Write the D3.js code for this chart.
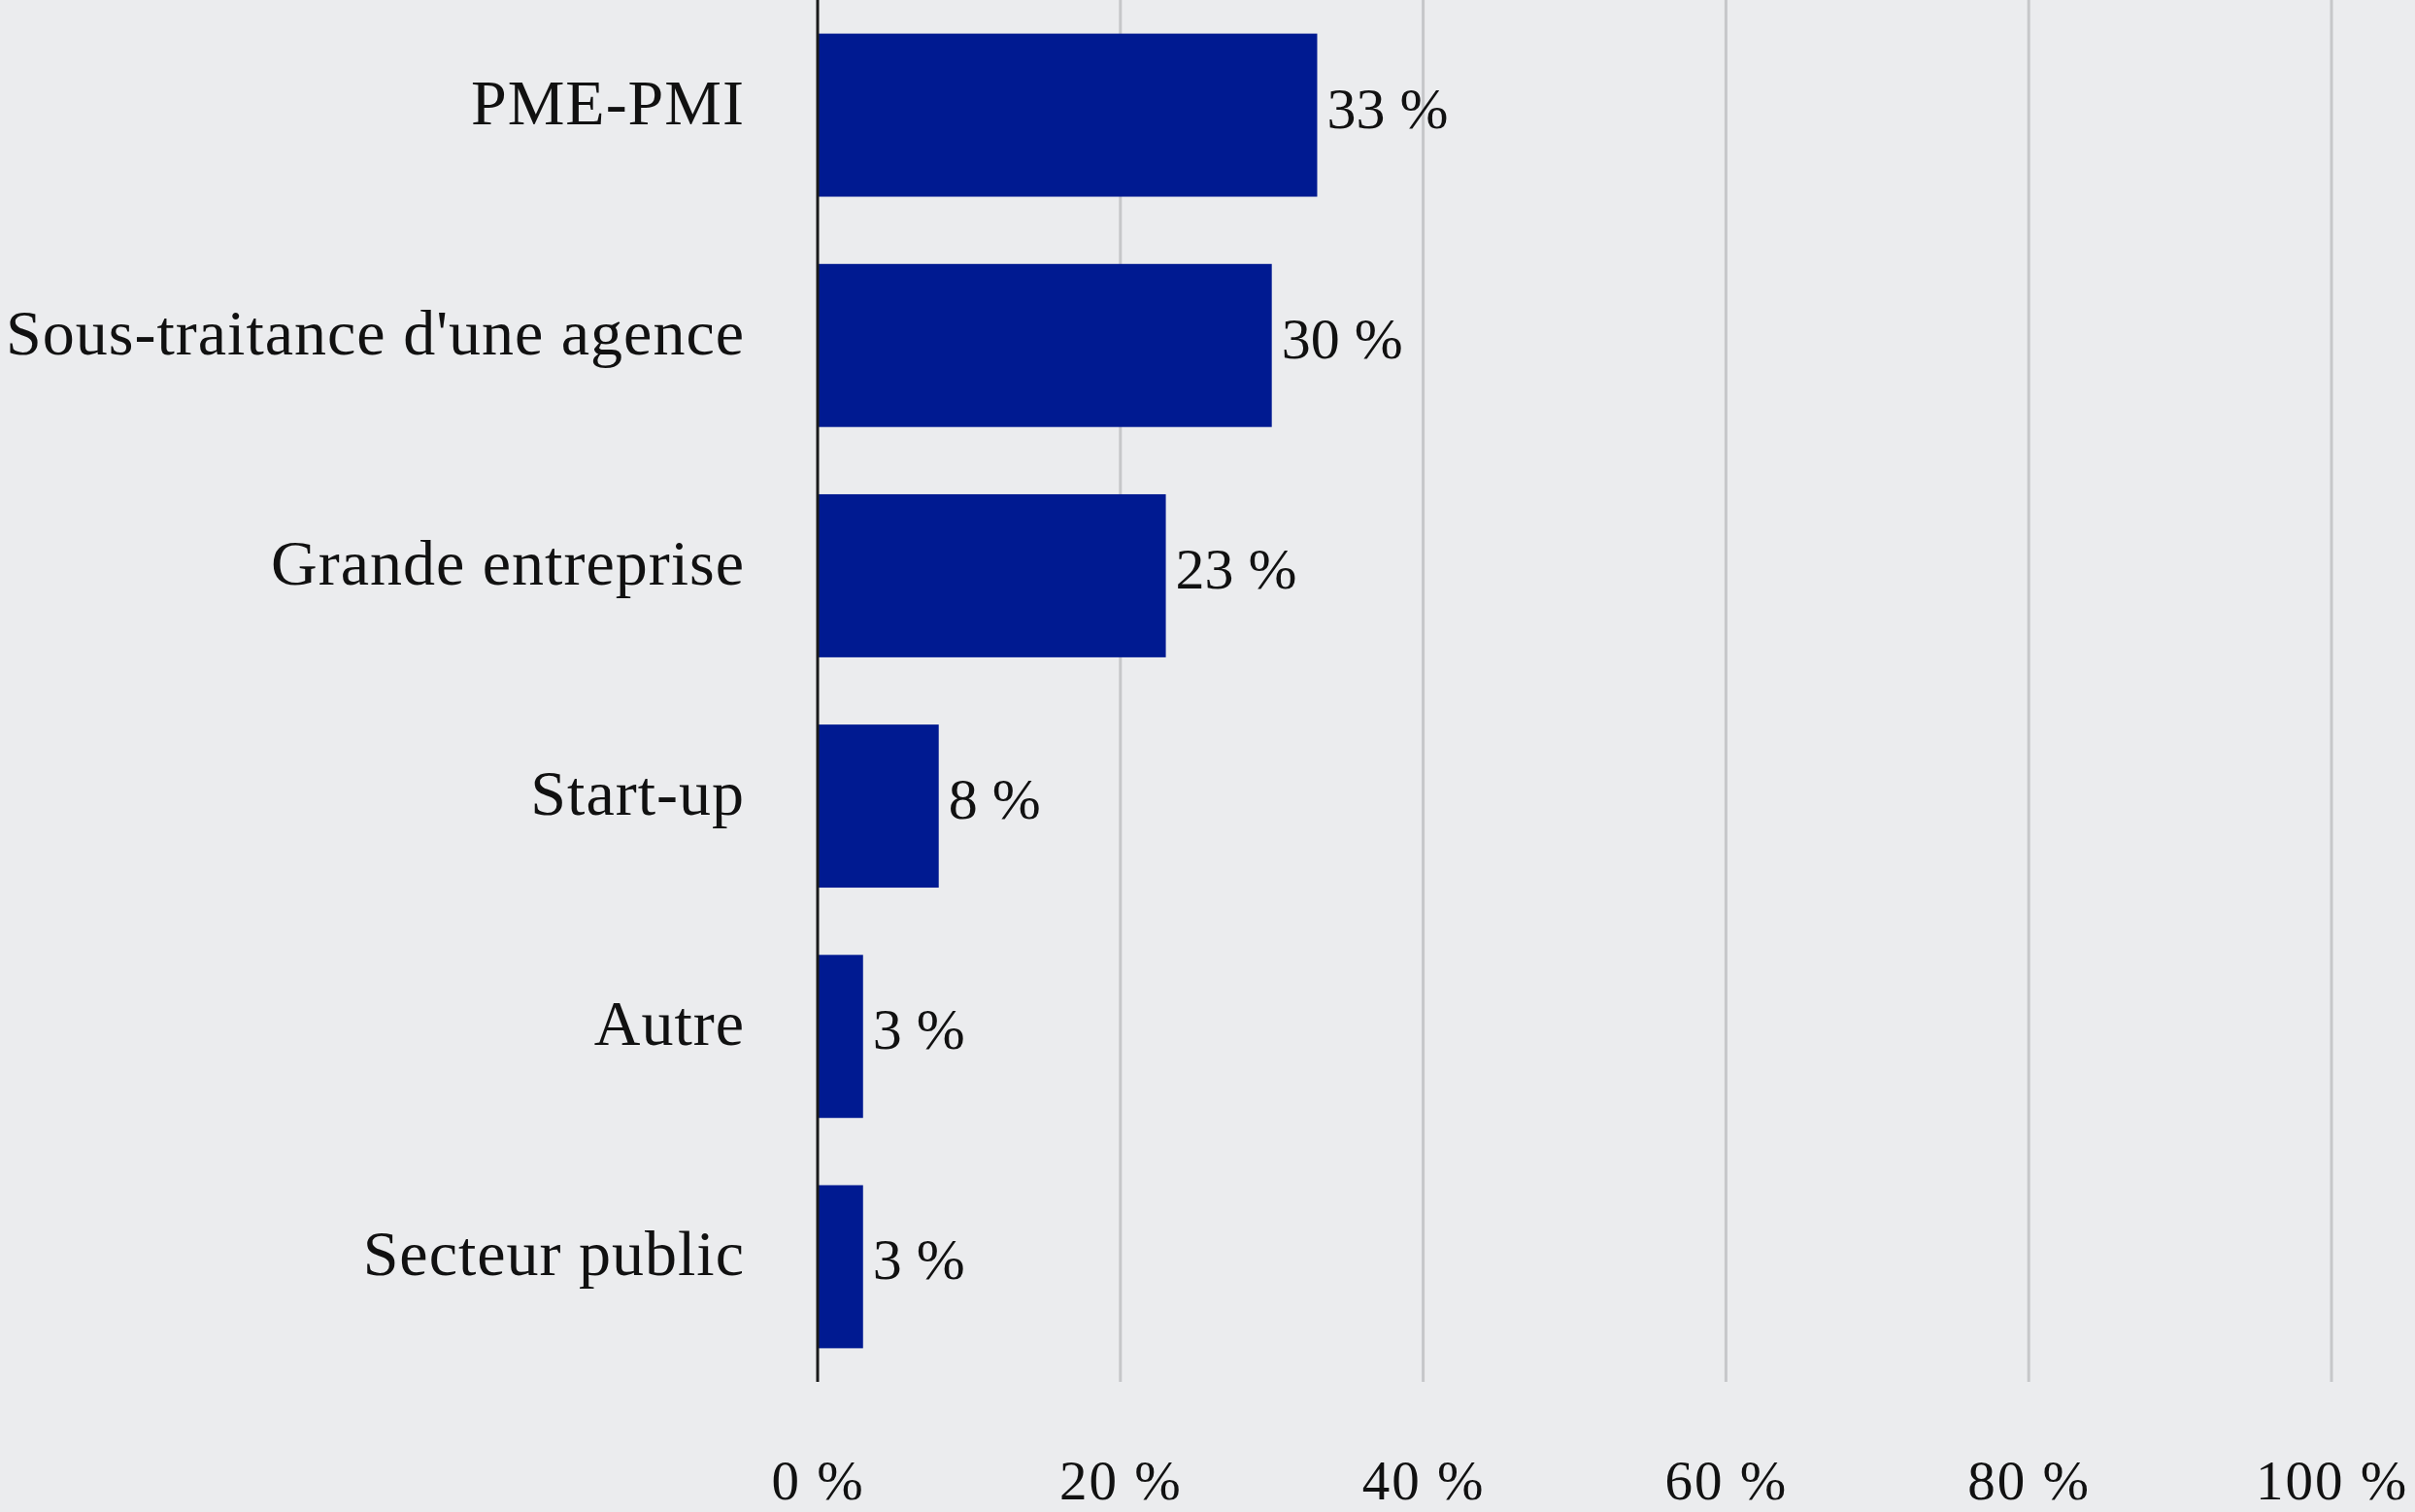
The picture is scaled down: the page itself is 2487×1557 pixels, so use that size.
<!DOCTYPE html>
<html>
<head>
<meta charset="utf-8">
<script src="https://cdn.jsdelivr.net/npm/d3@7"></script>
<style>
  html, body { margin: 0; padding: 0; background: #EBECEE; }
  svg { display: block; }
</style>
</head>
<body>
<svg id="chart" width="2487" height="1557"></svg>
<script>
const categories = ["PME-PMI", "Sous-traitance d'une agence", "Grande entreprise", "Start-up", "Autre", "Secteur public"];
const values = [33, 30, 23, 8, 3, 3];
const tickValues = [0, 20, 40, 60, 80, 100];
const tickLabels = ["0 %", "20 %", "40 %", "60 %", "80 %", "100 %"];

const W = 2487, H = 1557;
const svg = d3.select("#chart");
svg.append("rect").attr("width", W).attr("height", H).attr("fill", "#EBECEE");

const x = d3.scaleLinear().domain([0, 100]).range([842, 2401]);
const y = d3.scaleBand().domain(categories).range([0, 1423]).paddingInner(0.292).paddingOuter(0.146);

const font = "'Liberation Serif', 'Times New Roman', serif";

// gridlines
svg.append("g").selectAll("line").data(tickValues.filter(d => d > 0)).join("line")
  .attr("x1", d => x(d)).attr("x2", d => x(d))
  .attr("y1", 0).attr("y2", 1423)
  .attr("stroke", "#C6C7C9").attr("stroke-width", 3);

// bars
svg.append("g").selectAll("rect").data(values).join("rect")
  .attr("x", x(0))
  .attr("y", (d, i) => y(categories[i]))
  .attr("width", d => x(d) - x(0))
  .attr("height", y.bandwidth())
  .attr("fill", "#001A91");

// zero axis line
svg.append("line")
  .attr("x1", x(0)).attr("x2", x(0)).attr("y1", 0).attr("y2", 1423)
  .attr("stroke", "#1a1a1a").attr("stroke-width", 3);

// category labels
svg.append("g").selectAll("text").data(categories).join("text")
  .attr("x", 767)
  .attr("y", d => y(d) + y.bandwidth() / 2 + 9)
  .attr("text-anchor", "end")
  .attr("font-family", font)
  .attr("font-size", 66)
  .attr("letter-spacing", 1.0)
  .attr("fill", "#111")
  .text(d => d);

// value labels
svg.append("g").selectAll("text").data(values).join("text")
  .attr("x", d => x(d) + 10)
  .attr("y", (d, i) => y(categories[i]) + y.bandwidth() / 2 + 13)
  .attr("font-family", font)
  .attr("font-size", 60)
  .attr("fill", "#111")
  .text(d => d + "\u00a0%");

// x tick labels
const xAxis = d3.axisBottom(x).tickValues(tickValues).tickFormat((d, i) => tickLabels[i]).tickSize(0).tickPadding(0);
const gx = svg.append("g").attr("transform", "translate(0,1500)").call(xAxis);
gx.select(".domain").remove();
gx.selectAll("text")
  .attr("font-family", font)
  .attr("font-size", 57)
  .attr("letter-spacing", 2)
  .attr("fill", "#111")
  .attr("dy", null)
  .attr("y", 44);
</script>
</body>
</html>
